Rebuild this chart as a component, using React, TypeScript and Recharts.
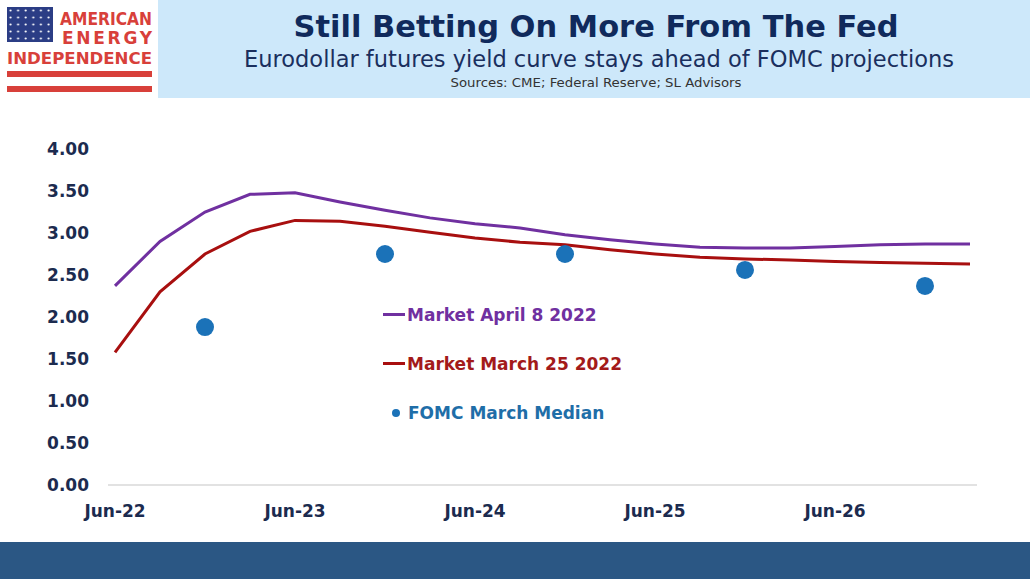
import { ComposedChart, Line, XAxis, YAxis, Legend } from "recharts";

const quarters = [
  "Jun-22", "Sep-22", "Dec-22", "Mar-23", "Jun-23", "Sep-23", "Dec-23",
  "Mar-24", "Jun-24", "Sep-24", "Dec-24", "Mar-25", "Jun-25", "Sep-25",
  "Dec-25", "Mar-26", "Jun-26", "Sep-26", "Dec-26", "Mar-27",
];
const marketApr8 = [
  2.37, 2.9, 3.25, 3.46, 3.48, 3.37, 3.27, 3.18, 3.11, 3.06,
  2.98, 2.92, 2.87, 2.83, 2.82, 2.82, 2.84, 2.86, 2.87, 2.87,
];
const marketMar25 = [
  1.58, 2.3, 2.75, 3.02, 3.15, 3.14, 3.08, 3.01, 2.94, 2.89,
  2.86, 2.8, 2.75, 2.71, 2.69, 2.68, 2.66, 2.65, 2.64, 2.63,
];
const fomcQuarters = ["Dec-22", "Dec-23", "Dec-24", "Dec-25", "Dec-26"];
const fomcMedian = [1.88, 2.75, 2.75, 2.56, 2.37];
const yTicks = [0, 0.5, 1, 1.5, 2, 2.5, 3, 3.5, 4];

const data = quarters.map((q, i) => {
  const k = fomcQuarters.indexOf(q);
  return {
    q,
    apr8: marketApr8[i],
    mar25: marketMar25[i],
    fomc: k >= 0 ? fomcMedian[k] : null,
  };
});

const PURPLE = "#7030a0";
const RED = "#a80f0f";
const BLUE = "#1b72b8";
const NAVY = "#1c2b4f";
const FONT = "'DejaVu Sans', Verdana, sans-serif";

const legendOrder = ["apr8", "mar25", "fomc"];
const legendMark: Record<string, string> = {
  apr8: PURPLE,
  mar25: RED,
  fomc: BLUE,
};
const legendText: Record<string, string> = {
  apr8: "#7030a0",
  mar25: "#a31a1a",
  fomc: "#1f6ea8",
};

function LegendBox(props: any) {
  const payload = [...(props.payload || [])].sort(
    (a: any, b: any) =>
      legendOrder.indexOf(a.dataKey) - legendOrder.indexOf(b.dataKey)
  );
  return (
    <div style={{ fontFamily: FONT, fontWeight: "bold", fontSize: 17 }}>
      {payload.map((p: any) => (
        <div
          key={p.dataKey}
          style={{ height: 49, display: "flex", alignItems: "center" }}
        >
          {p.dataKey === "fomc" ? (
            <span style={{ width: 25, display: "flex", justifyContent: "center" }}>
              <span
                style={{
                  width: 8,
                  height: 8,
                  borderRadius: 4,
                  background: legendMark[p.dataKey],
                  display: "block",
                }}
              />
            </span>
          ) : (
            <span
              style={{
                width: 22,
                height: 3,
                background: legendMark[p.dataKey],
                display: "block",
                marginRight: 2,
              }}
            />
          )}
          <span style={{ color: legendText[p.dataKey] }}>{p.value}</span>
        </div>
      ))}
    </div>
  );
}

function Header() {
  return (
    <svg
      width={1030}
      height={100}
      style={{ position: "absolute", left: 0, top: 0 }}
    >
      <defs>
        <pattern id="stars" width="7.6" height="7" patternUnits="userSpaceOnUse" x="8" y="8">
          <circle cx="2.5" cy="2.5" r="1.1" fill="#ffffff" />
        </pattern>
      </defs>
      <rect x={158} y={0} width={872} height={98} fill="#cde8fa" />
      <rect x={7} y={7} width={46} height={35} fill="#2b3d85" />
      <rect x={7} y={7} width={46} height={35} fill="url(#stars)" />
      <text
        x={60}
        y={25}
        textLength={92}
        lengthAdjust="spacingAndGlyphs"
        fill="#d8403a"
        fontFamily={FONT}
        fontWeight="bold"
        fontSize={17}
      >
        AMERICAN
      </text>
      <text
        x={62}
        y={44}
        textLength={90}
        lengthAdjust="spacing"
        fill="#d8403a"
        fontFamily={FONT}
        fontWeight="bold"
        fontSize={17}
      >
        ENERGY
      </text>
      <text
        x={7}
        y={64}
        textLength={145}
        lengthAdjust="spacingAndGlyphs"
        fill="#d8403a"
        fontFamily={FONT}
        fontWeight="bold"
        fontSize={16}
      >
        INDEPENDENCE
      </text>
      <rect x={7} y={71} width={145} height={6} fill="#d8403a" />
      <rect x={7} y={86} width={145} height={6} fill="#d8403a" />
      <text
        x={596}
        y={37}
        textAnchor="middle"
        textLength={605}
        lengthAdjust="spacingAndGlyphs"
        fill="#102a5c"
        fontFamily={FONT}
        fontWeight="bold"
        fontSize={30}
      >
        Still Betting On More From The Fed
      </text>
      <text
        x={599}
        y={67}
        textAnchor="middle"
        textLength={710}
        lengthAdjust="spacingAndGlyphs"
        fill="#1a2f5e"
        fontFamily={FONT}
        fontSize={23}
      >
        Eurodollar futures yield curve stays ahead of FOMC projections
      </text>
      <text
        x={596}
        y={87}
        textAnchor="middle"
        textLength={291}
        lengthAdjust="spacingAndGlyphs"
        fill="#333333"
        fontFamily={FONT}
        fontSize={13}
      >
        Sources: CME; Federal Reserve; SL Advisors
      </text>
    </svg>
  );
}

export default function App() {
  const tick = {
    fill: NAVY,
    fontFamily: FONT,
    fontWeight: "bold",
    fontSize: 17,
  };
  return (
    <div
      style={{
        position: "absolute",
        left: 0,
        top: 0,
        width: 1030,
        height: 579,
        background: "#ffffff",
        overflow: "hidden",
      }}
    >
      <Header />
      <div style={{ position: "absolute", left: 0, top: 0 }}>
        <ComposedChart
          width={1030}
          height={579}
          data={data}
          margin={{ top: 149, right: 53, bottom: 64, left: 13 }}
        >
          <XAxis
            dataKey="q"
            scale="point"
            padding={{ left: 7, right: 7 }}
            interval={3}
            tickLine={false}
            axisLine={{ stroke: "#d9d9d9", strokeWidth: 1.5 }}
            tick={tick}
            tickMargin={14}
            height={30}
          />
          <YAxis
            domain={[0, 4]}
            ticks={yTicks}
            tickFormatter={(v: number) => v.toFixed(2)}
            axisLine={false}
            tickLine={false}
            tick={tick}
            tickMargin={13}
            width={95}
          />
          <Legend
            content={<LegendBox />}
            verticalAlign="middle"
            align="center"
            wrapperStyle={{ left: 383, top: 290, width: 320, bottom: "auto" }}
          />
          <Line
            dataKey="apr8"
            name="Market April 8 2022"
            type="linear"
            stroke={PURPLE}
            strokeWidth={3}
            dot={false}
            legendType="line"
            isAnimationActive={false}
          />
          <Line
            dataKey="mar25"
            name="Market March 25 2022"
            type="linear"
            stroke={RED}
            strokeWidth={3}
            dot={false}
            legendType="line"
            isAnimationActive={false}
          />
          <Line
            dataKey="fomc"
            name="FOMC March Median"
            stroke="none"
            strokeWidth={0}
            dot={{ r: 9, fill: BLUE, stroke: "none" }}
            legendType="circle"
            isAnimationActive={false}
          />
        </ComposedChart>
      </div>
      <div
        style={{
          position: "absolute",
          left: 0,
          top: 542,
          width: 1030,
          height: 37,
          background: "#2b5784",
        }}
      />
    </div>
  );
}
